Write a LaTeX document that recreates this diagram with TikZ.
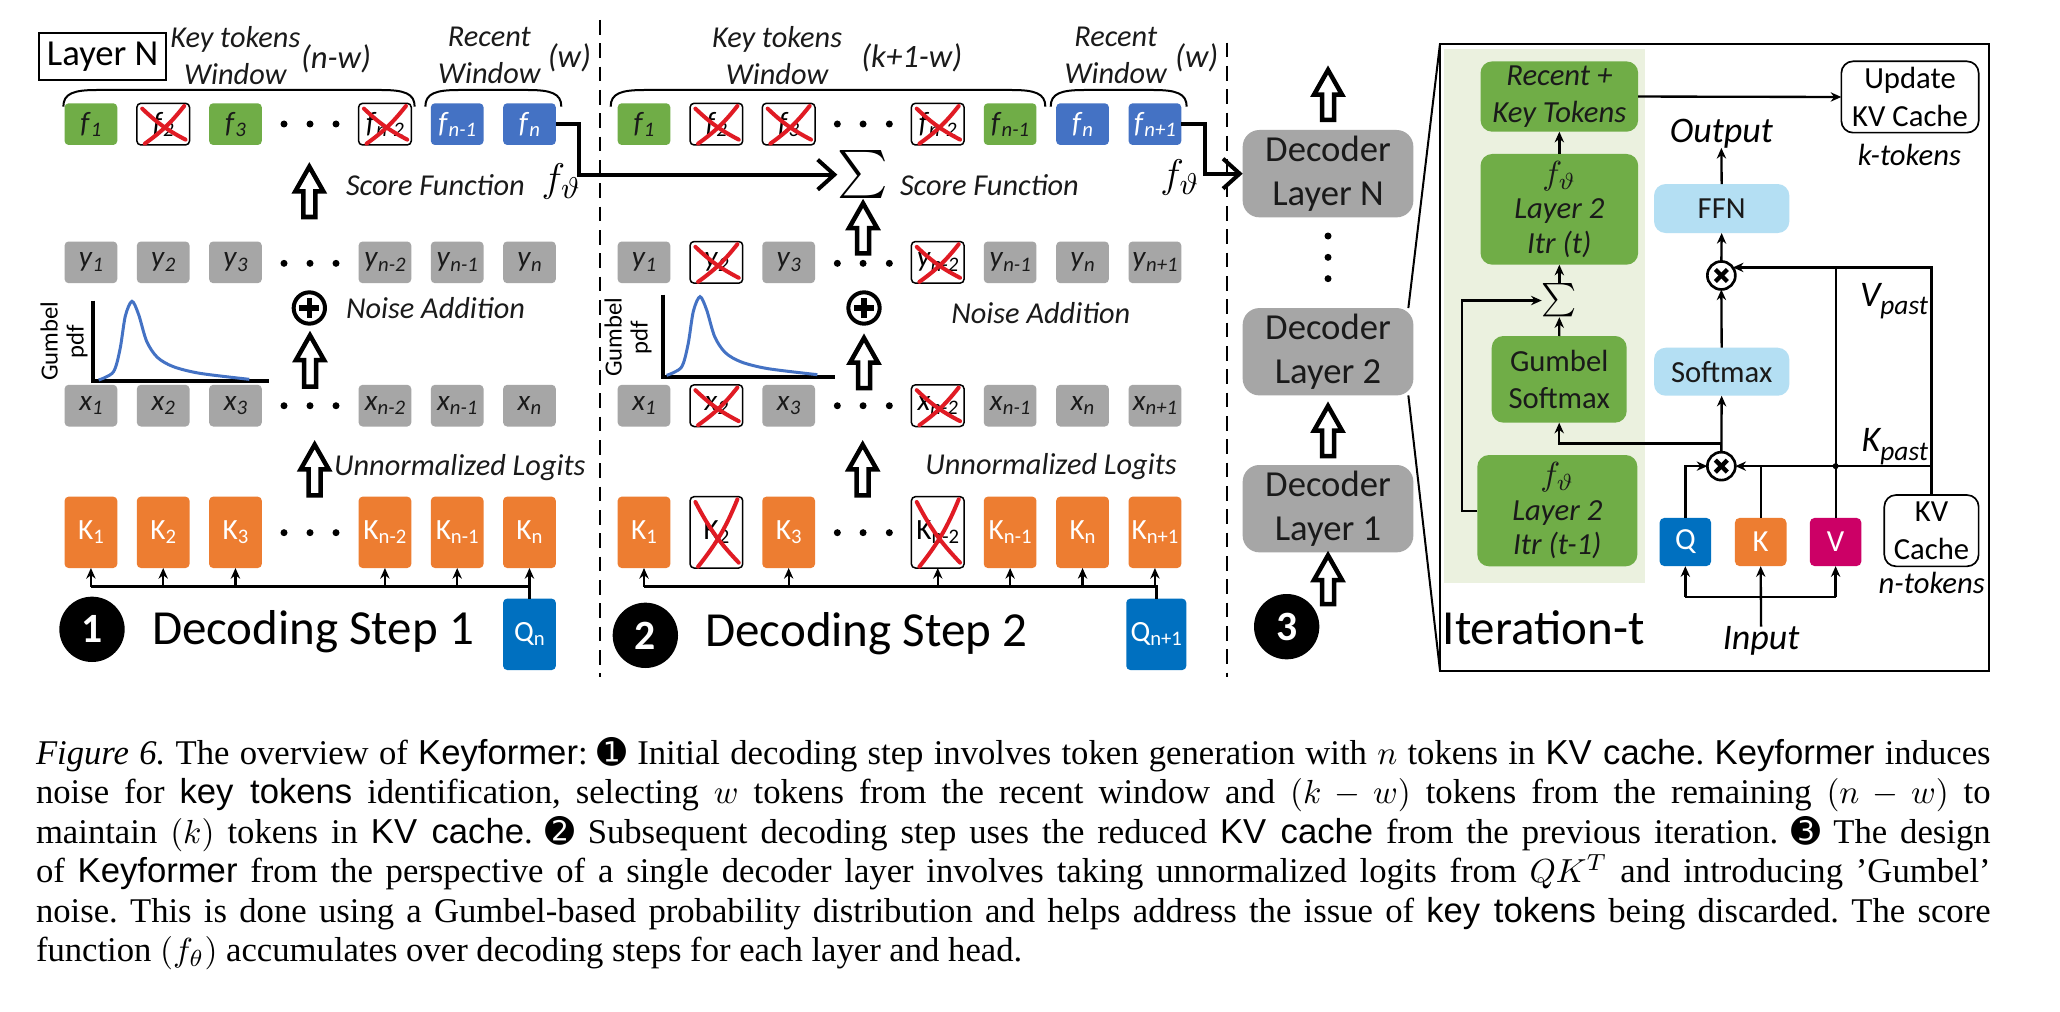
\documentclass[tikz,border=0pt]{standalone}
\usepackage{exscale}
\usepackage{fontspec}
\setmainfont{Liberation Serif}
\setsansfont{Liberation Sans}
\newfontfamily\carl{Carlito}
\newfontfamily\dejavu{DejaVu Sans}
\usetikzlibrary{arrows.meta}
\definecolor{fgreen}{HTML}{70AD47}
\definecolor{fblue}{HTML}{4472C4}
\definecolor{tgray}{HTML}{A6A6A6}
\definecolor{korange}{HTML}{ED7D31}
\definecolor{qblue}{HTML}{0070C0}
\definecolor{vmag}{HTML}{CC0066}
\definecolor{lblue}{HTML}{B4DFF3}
\definecolor{lgreen}{HTML}{EBF1DF}
\definecolor{xred}{HTML}{E01B24}
\definecolor{gcurve}{HTML}{4472C4}
\definecolor{txt}{HTML}{1A1A1A}
\newcommand\itok[2]{\textit{#1}\raisebox{-0.3ex}{\fontsize{6.2}{6.2}\selectfont\textit{#2}}}
\newcommand\utok[2]{#1\raisebox{-0.3ex}{\fontsize{6.2}{6.2}\selectfont #2}}
\newcommand\barw[3]{\draw[blockarrow] ({#1-4.5},{#2-1}) -- ({#1-4.5},{#3+21}) -- ({#1-10.5},{#3+21}) -- (#1,{#3+2.5}) -- ({#1+10.5},{#3+21}) -- ({#1+4.5},{#3+21}) -- ({#1+4.5},{#2-1}) -- cycle;}
\newcommand\xout[1]{\draw[xstroke] ([shift={(4,4)}]#1.north west) to[bend right=8] ([shift={(-3,-4)}]#1.south east);
  \draw[xstroke] ([shift={(-4,2)}]#1.north east) to[bend left=8] ([shift={(6,-1)}]#1.south west);}
\newcommand\brk[2]{\draw[bracest] (#1,80) .. controls (#1,70) and ({#1+8},67.5) .. ({#1+25},67.5) -- ({#2-25},67.5) .. controls ({#2-8},67.5) and (#2,70) .. (#2,80);}
\newcommand\oplusmark[1]{\draw[line width=1.6pt] ([xshift=-3pt]#1.center) -- ([xshift=3pt]#1.center); \draw[line width=1.6pt] ([yshift=-3pt]#1.center) -- ([yshift=3pt]#1.center);}
\newcommand\otimesmark[1]{\draw[line width=1.3pt] ([shift={(-1.8pt,-1.8pt)}]#1.center) -- ([shift={(1.8pt,1.8pt)}]#1.center); \draw[line width=1.3pt] ([shift={(-1.8pt,1.8pt)}]#1.center) -- ([shift={(1.8pt,-1.8pt)}]#1.center);}
\begin{document}
\begin{tikzpicture}[x=0.4pt,y=-0.4pt,
  every node/.style={inner sep=0pt, outer sep=0pt},
  tok/.style={rounded corners=1.2pt, minimum width=15.8pt, minimum height=12.5pt, font=\carl\fontsize{8.8}{9}\selectfont, text=txt},
  ftg/.style={tok, fill=fgreen},
  ftb/.style={tok, fill=fblue, text=white},
  ytg/.style={tok, fill=tgray},
  kt/.style={tok, fill=korange, text=white, minimum height=21.4pt},
  qt/.style={kt, fill=qblue},
  xt/.style={tok, draw=black, line width=0.45pt, fill=white, text=black},
  xk/.style={xt, minimum height=21.4pt},
  xstroke/.style={draw=xred, line width=1.2pt, line cap=round},
  lab/.style={font=\carl\itshape\fontsize{9.1}{11}\selectfont, text=txt},
  plab/.style={font=\carl\itshape\fontsize{9.8}{11}\selectfont, text=txt},
  bracest/.style={line width=0.6pt},
  blockarrow/.style={draw=black, fill=white, line width=1.35pt, line join=miter},
  conn/.style={line width=1.2pt, -{Straight Barb[length=5pt,width=9pt,line width=1.2pt]}},
  sarr/.style={line width=0.7pt, -{Stealth[length=3.2pt,width=2.8pt]}},
  bus/.style={line width=0.8pt},
  thinl/.style={line width=0.6pt},
  dashst/.style={line width=0.6pt, dash pattern=on 4.4pt off 2.6pt},
  opc/.style={circle, draw, line width=1.2pt, minimum size=9.4pt},
  otc/.style={circle, draw, line width=0.8pt, minimum size=8.4pt},
  num/.style={circle, fill=black, text=white, minimum size=19.6pt, font=\carl\bfseries\fontsize{12.5}{12.5}\selectfont},
  bigtxt/.style={font=\carl\fontsize{14.7}{15}\selectfont, text=black},
  dec/.style={rounded corners=5pt, fill=tgray, minimum width=51.2pt, minimum height=26.2pt, align=center, font=\carl\fontsize{11}{13.4}\selectfont, text=txt},
  gbox/.style={rounded corners=3.5pt, fill=fgreen, align=center, text=txt, font=\carl\itshape\fontsize{9.2}{11}\selectfont},
  lbbox/.style={rounded corners=3.5pt, fill=lblue, text=txt, font=\carl\fontsize{9.2}{11}\selectfont},
  wbox/.style={rounded corners=3.5pt, draw, line width=0.5pt, fill=white, align=center, text=black, font=\carl\fontsize{9.2}{11.2}\selectfont},
  sq/.style={rounded corners=1.5pt, minimum width=15.5pt, minimum height=14.5pt, text=white, font=\carl\fontsize{9.2}{9.2}\selectfont},
  olab/.style={font=\carl\itshape\fontsize{10.8}{11}\selectfont, text=black},
  slab/.style={font=\carl\itshape\fontsize{9.2}{10}\selectfont, text=black},
  glab/.style={font=\carl\fontsize{7.4}{7.8}\selectfont, rotate=90, align=center},
  ftheta/.style={font=\fontsize{13}{13}\selectfont},
  curvest/.style={draw=gcurve, line width=0.9pt},
  axst/.style={line width=1.2pt}
]
\fill[white] (0,0) rectangle (1545,759);
\useasboundingbox (0,0) rectangle (1545,759);

% ================= Panel 1 =================
\node[draw, line width=0.6pt, minimum width=38pt, minimum height=14pt, font=\carl\fontsize{11}{11}\selectfont] (layn) at (77,42.5) {Layer N};
\node[lab, align=center] (akt) at (176.5,41.75) {Key tokens\\Window};
\node[plab] (anw) at (252,44) {(n-w)};
\node[lab, align=center] (arw) at (367,41.75) {Recent\\Window};
\node[plab] (aw) at (427,43) {(w)};
\brk{47.5}{311}
\brk{319}{421}

\node[ftg] (af1) at (68.2,93.1) {\itok{f}{1}};
\node[xt]  (af2) at (122.4,93.1) {\itok{f}{2}};
\node[ftg] (af3) at (176.6,93.1) {\itok{f}{3}};
\node[xt]  (af4) at (288.7,93.1) {\itok{f}{n-2}};
\node[ftb] (af5) at (342.9,93.1) {\itok{f}{n-1}};
\node[ftb] (af6) at (397.1,93.1) {\itok{f}{n}};
\xout{af2}
\xout{af4}

\node[ytg] (ay1) at (68.2,196.75) {\itok{y}{1}};
\node[ytg] (ay2) at (122.4,196.75) {\itok{y}{2}};
\node[ytg] (ay3) at (176.6,196.75) {\itok{y}{3}};
\node[ytg] (ay4) at (288.7,196.75) {\itok{y}{n-2}};
\node[ytg] (ay5) at (342.9,196.75) {\itok{y}{n-1}};
\node[ytg] (ay6) at (397.1,196.75) {\itok{y}{n}};

\node[ytg] (ax1) at (68.2,304.25) {\itok{x}{1}};
\node[ytg] (ax2) at (122.4,304.25) {\itok{x}{2}};
\node[ytg] (ax3) at (176.6,304.25) {\itok{x}{3}};
\node[ytg] (ax4) at (288.7,304.25) {\itok{x}{n-2}};
\node[ytg] (ax5) at (342.9,304.25) {\itok{x}{n-1}};
\node[ytg] (ax6) at (397.1,304.25) {\itok{x}{n}};

\node[kt] (ak1) at (68.2,399.25) {\utok{K}{1}};
\node[kt] (ak2) at (122.4,399.25) {\utok{K}{2}};
\node[kt] (ak3) at (176.6,399.25) {\utok{K}{3}};
\node[kt] (ak4) at (288.7,399.25) {\utok{K}{n-2}};
\node[kt] (ak5) at (342.9,399.25) {\utok{K}{n-1}};
\node[kt] (ak6) at (397.1,399.25) {\utok{K}{n}};
\node[qt] (aq) at (397.1,475.75) {\utok{Q}{n}};

\foreach \x in {213,232.5,252} \foreach \y in {93,197.5,304.3,399.5} \fill (\x,\y) circle[radius=1.05pt];

\draw[bus] (aq.north) -- (aq.north |- 0,440) -- (ak1.south |- 0,440);
\foreach \n in {ak1,ak2,ak3,ak4,ak5,ak6} \draw[sarr] (\n.south |- 0,440) -- (\n.south);

\barw{232}{163.75}{122.5}
\barw{232.5}{291}{249}
\barw{236}{372.5}{331}
\node[opc] (aplus) at (232,231) {};
\oplusmark{aplus}
\node[lab, anchor=west] (asf) at (259.5,139) {Score Function};
\node[lab, anchor=west] (ana) at (259.5,231) {Noise Addition};
\node[lab, anchor=west] (aul) at (250.6,351) {Unnormalized Logits};
\node[ftheta] (aft) at (421,136) {$f_\vartheta$};

% gumbel plot 1
\draw[axst] (70,225.5) -- (70,286) -- (201.5,286);
\draw[curvest] plot[smooth] coordinates {(74,285) (85,279) (90,262) (94,237) (99,226) (104,236) (110,256) (118,268) (130,275) (150,280) (187,284.5)};
\node[glab] (agl) at (48,256) {Gumbel\\pdf};

\node[num] (n1) at (69,472) {1};
\node[bigtxt, anchor=west] (ds1) at (114,474) {Decoding Step 1};

\draw[dashst] (450,15) -- (450,507.5);

% ================= Panel 2 =================
\node[lab, align=center] (bkt) at (582.8,41.75) {Key tokens\\Window};
\node[plab] (bnw) at (683.8,43) {(k+1-w)};
\node[lab, align=center] (brw) at (836.8,41.75) {Recent\\Window};
\node[plab] (bw) at (897.5,43) {(w)};
\brk{458}{784}
\brk{788}{890}

\node[ftg] (bf1) at (483,93.1) {\itok{f}{1}};
\node[xt]  (bf2) at (537.3,93.1) {\itok{f}{2}};
\node[xt]  (bf3) at (591.5,93.1) {\itok{f}{3}};
\node[xt]  (bf4) at (703.3,93.1) {\itok{f}{n-2}};
\node[ftg] (bf5) at (757.6,93.1) {\itok{f}{n-1}};
\node[ftb] (bf6) at (811.9,93.1) {\itok{f}{n}};
\node[ftb] (bf7) at (866.2,93.1) {\itok{f}{n+1}};
\xout{bf2}
\xout{bf3}
\xout{bf4}

\node[ytg] (by1) at (483,196.75) {\itok{y}{1}};
\node[xt]  (by2) at (537.3,196.75) {\itok{y}{2}};
\node[ytg] (by3) at (591.5,196.75) {\itok{y}{3}};
\node[xt]  (by4) at (703.3,196.75) {\itok{y}{n-2}};
\node[ytg] (by5) at (757.6,196.75) {\itok{y}{n-1}};
\node[ytg] (by6) at (811.9,196.75) {\itok{y}{n}};
\node[ytg] (by7) at (866.2,196.75) {\itok{y}{n+1}};
\xout{by2}
\xout{by4}

\node[ytg] (bx1) at (483,304.25) {\itok{x}{1}};
\node[xt]  (bx2) at (537.3,304.25) {\itok{x}{2}};
\node[ytg] (bx3) at (591.5,304.25) {\itok{x}{3}};
\node[xt]  (bx4) at (703.3,304.25) {\itok{x}{n-2}};
\node[ytg] (bx5) at (757.6,304.25) {\itok{x}{n-1}};
\node[ytg] (bx6) at (811.9,304.25) {\itok{x}{n}};
\node[ytg] (bx7) at (866.2,304.25) {\itok{x}{n+1}};
\xout{bx2}
\xout{bx4}

\node[kt] (bk1) at (483,399.25) {\utok{K}{1}};
\node[xk] (bk2) at (537.3,399.25) {\utok{K}{2}};
\node[kt] (bk3) at (591.5,399.25) {\utok{K}{3}};
\node[xk] (bk4) at (703.3,399.25) {\utok{K}{n-2}};
\node[kt] (bk5) at (757.6,399.25) {\utok{K}{n-1}};
\node[kt] (bk6) at (811.9,399.25) {\utok{K}{n}};
\node[kt] (bk7) at (866.2,399.25) {\utok{K}{n+1}};
\xout{bk2}
\xout{bk4}
\node[qt, minimum width=18pt] (bq) at (867.2,475.75) {\utok{Q}{n+1}};

\foreach \x in {628,647.3,667} \foreach \y in {93,197.5,304.3,399.5} \fill (\x,\y) circle[radius=1.05pt];

\draw[bus] (bq.north) -- (bq.north |- 0,440) -- (bk1.south |- 0,440);
\foreach \n in {bk1,bk3,bk4,bk5,bk6,bk7} \draw[sarr] (\n.south |- 0,440) -- (\n.south);

\node[font=\fontsize{14}{14}\selectfont] (sig2) at (647,131) {$\sum$};
\barw{647.3}{191}{150}
\barw{648}{292}{251}
\barw{647}{372.5}{331}
\node[opc] (bplus) at (648,231) {};
\oplusmark{bplus}
\node[lab, anchor=west] (bsf) at (675,139) {Score Function};
\node[lab, anchor=west] (bna) at (713.5,235) {Noise Addition};
\node[lab, anchor=west] (bul) at (694,350) {Unnormalized Logits};
\node[ftheta] (bft) at (885,133) {$f_\vartheta$};

\draw[axst] (497,221) -- (497,282.5) -- (626.5,282.5);
\draw[curvest, shift={(426,-3.5)}] plot[smooth] coordinates {(74,285) (85,279) (90,262) (94,237) (99,226) (104,236) (110,256) (118,268) (130,275) (150,280) (187,284.5)};
\node[glab] (bgl) at (471,253) {Gumbel\\pdf};

\node[num] (n2) at (484,476.5) {2};
\node[bigtxt, anchor=west] (ds2) at (529,475) {Decoding Step 2};

\draw[conn] (af6.east) -- ++(17.3,0) |- (sig2.west);

\draw[dashst] (920,32) -- (920,507.5);

% ================= Panel 3 =================
\node[dec] (decN) at (996,130.25) {Decoder\\Layer N};
\node[dec] (dec2) at (996,263.8) {Decoder\\Layer 2};
\node[dec] (dec1) at (996,381.5) {Decoder\\Layer 1};
\foreach \y in {177,193,209} \fill (996,\y) circle[radius=1.05pt];
\barw{996}{91}{50}
\barw{996}{343}{302}
\barw{996}{454}{414}
\node[num] (n3) at (965,470) {3};
\draw[conn] (bf7.east) -- ++(18,0) |- (decN.west);

\node[draw, line width=0.6pt, minimum width=164.8pt, minimum height=188.1pt] (big) at (1286,267.9) {};
\node[fill=lgreen, minimum width=60.4pt, minimum height=160pt] (bg) at (1158.5,237) {};
\draw[thinl] ([xshift=-1.5pt]dec2.north east) -- (big.north west);
\draw[thinl] ([xshift=-1.5pt]dec2.south east) -- (big.south west);

\node[gbox, minimum width=47.3pt, minimum height=21.1pt] (rk) at (1169.5,72.4) {Recent +\\Key Tokens};
\node[gbox, minimum width=47.3pt, minimum height=33.2pt, font=\carl\itshape\fontsize{9.2}{10.4}\selectfont] (it) at (1169.5,157) {{\fontsize{10}{10}\selectfont$f_\vartheta$}\\Layer 2\\Itr (t)};
\node (sg3) at (1169.5,225.4) {\fontsize{10}{10}\selectfont$\sum$};
\node[gbox, font=\carl\fontsize{9.2}{11}\selectfont, minimum width=40.5pt, minimum height=26pt] (gs) at (1169.4,284.5) {Gumbel\\Softmax};
\node[gbox, minimum width=48pt, minimum height=33.4pt, font=\carl\itshape\fontsize{9.2}{10.4}\selectfont] (it1) at (1168,383) {{\fontsize{10}{10}\selectfont$f_\vartheta$}\\Layer 2\\Itr (t-1)};

\node[olab] (out) at (1291,100) {Output};
\node[lbbox, minimum width=40.6pt, minimum height=14.7pt] (ffn) at (1291.25,156.4) {FFN};
\node[otc] (ox1) at (1291,206.6) {};
\otimesmark{ox1}
\node[lbbox, minimum width=40.6pt, minimum height=14.4pt] (sm) at (1291.25,278.8) {Softmax};
\node[otc] (ox2) at (1291,349.6) {};
\otimesmark{ox2}
\node[sq, fill=qblue] (qq) at (1264,406.5) {Q};
\node[sq, fill=korange] (kk) at (1320.5,406.5) {K};
\node[sq, fill=vmag] (vv) at (1376.7,406.5) {V};
\node[wbox, minimum width=28.3pt, minimum height=21.4pt] (kvc) at (1448.6,398) {KV\\Cache};
\node[slab] (ntok) at (1448.8,437) {n-tokens};
\node[wbox, minimum width=41.2pt, minimum height=21.4pt] (upd) at (1432.5,72.75) {Update\\KV Cache};
\node[slab] (ktok) at (1432,116) {k-tokens};
\node[olab, anchor=east] (vp) at (1446,226) {V\raisebox{-0.5ex}{\fontsize{8.2}{8.2}\selectfont past}};
\node[olab, anchor=east] (kp) at (1446,335) {K\raisebox{-0.5ex}{\fontsize{8.2}{8.2}\selectfont past}};
\node[olab] (inp) at (1320.8,480.8) {Input};
\node[bigtxt, anchor=west] (itt) at (1082,471) {Iteration-t};

\draw[sarr] (rk.east) -- (upd.west);
\draw[sarr] (it.north) -- (rk.south);
\draw[sarr] (sg3.north) -- (it.south);
\draw[sarr] (gs.north) -- (sg3.south);
\draw[sarr] (it1.west) -- ++(-11.5,0) |- (sg3.west);
\coordinate (gj) at (1291,332.5);
\draw[sarr] (gj) -| (gs.south);
\draw[sarr] (ox2.north) -- (sm.south);
\draw[sarr] (sm.north) -- (ox1.south);
\draw[sarr] (ox1.north) -- (ffn.south);
\draw[sarr] (ffn.north) -- (out.south);
\draw[sarr] (kvc.north) |- (ox1.35);
\draw[sarr] (kvc.north |- ox2.east) -- (ox2.east);
\draw[thinl] (vv.north) -- (vv.north |- ox1.35);
\draw[thinl] (kk.north) -- (kk.north |- ox2.east);
\draw[sarr] (qq.north) |- (ox2.west);
\fill (vv.north |- ox2.east) circle[radius=0.9pt];
\coordinate (ib) at (1320.8,447.5);
\draw[sarr] (inp.north) -- (kk.south);
\draw[thinl] (qq.south |- ib) -- (vv.south |- ib);
\draw[sarr] (qq.south |- ib) -- (qq.south);
\draw[sarr] (vv.south |- ib) -- (vv.south);

% ================= Caption =================
\node[anchor=base west, text width=586.4pt, align=justify, font=\fontsize{10.4}{11.85}\selectfont] (cap) at (27,573) {\frenchspacing\textit{Figure 6.} The overview of \textsf{Keyformer}: {\dejavu ➊} Initial decoding step involves token generation with $n$ tokens in \textsf{KV cache}. \textsf{Keyformer} induces\linebreak noise for \textsf{key tokens} identification, selecting $w$ tokens from the recent window and $(k-w)$ tokens from the remaining $(n-w)$ to\linebreak maintain $(k)$ tokens in \textsf{KV cache}. {\dejavu ➋} Subsequent decoding step uses the reduced \textsf{KV cache} from the previous iteration. {\dejavu ➌} The design\linebreak of \textsf{Keyformer} from the perspective of a single decoder layer involves taking unnormalized logits from $QK^T$ and introducing ’Gumbel’\linebreak noise. This is done using a Gumbel-based probability distribution and helps address the issue of \textsf{key tokens} being discarded. The score\linebreak function $(f_\theta)$ accumulates over decoding steps for each layer and head.};
\end{tikzpicture}
\end{document}
